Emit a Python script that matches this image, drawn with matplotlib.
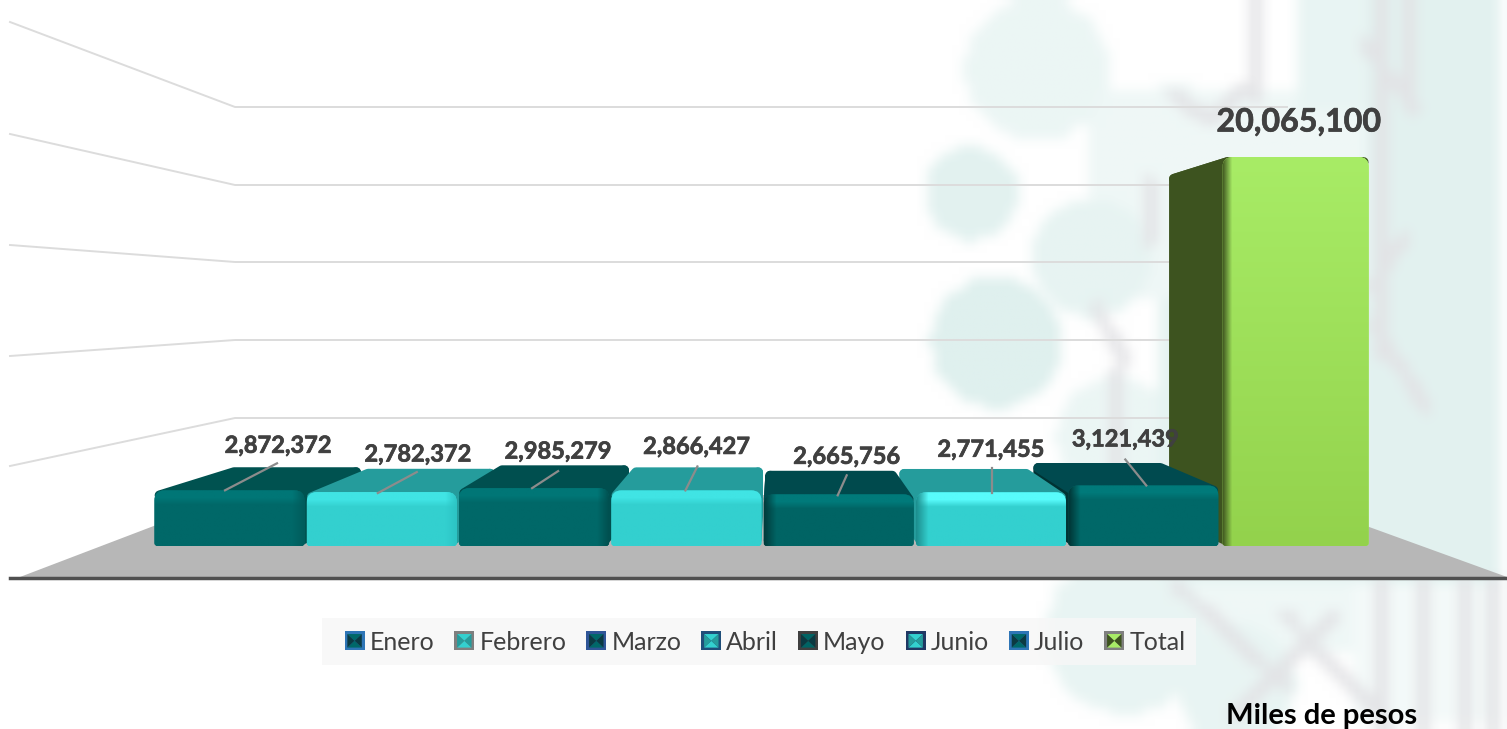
import numpy as np
import matplotlib
matplotlib.use("Agg")
import matplotlib.pyplot as plt
import matplotlib.patheffects as pe
from matplotlib.colors import to_rgb
from matplotlib.legend_handler import HandlerBase
from matplotlib.patches import Patch, PathPatch, Polygon, Rectangle
from matplotlib.path import Path

plt.rcParams["font.family"] = ["Lato", "DejaVu Sans"]

months = ["Enero", "Febrero", "Marzo", "Abril", "Mayo", "Junio", "Julio", "Total"]
values = [2872372, 2782372, 2985279, 2866427, 2665756, 2771455, 3121439, 20065100]

# px per unit
PX_X = 152.3
PX_Y = 389 / 20065100
X0, Y0 = 229.5, 546
W, H = 1507, 729

front = ["#006868", "#33d0cf", "#006868", "#33d0cf", "#006464", "#33d0cf", "#006868", "#a8ec66"]
bevel = ["#007676", "#40e4e4", "#007676", "#40e4e4", "#007a7a", "#58fbfb", "#007a7a", "#aef06c"]
topc = ["#005250", "#259c9c", "#004f4f", "#259c9c", "#004a4d", "#259c9c", "#004a4f", "#3d531f"]
side = ["#005c5c", "#2cc4c4", "#004e4e", "#2cc4c4", "#003c3c", "#1d8f8f", "#003333", "#3d531f"]
swatch_edge = ["#2e75b6", "#7f7f7f", "#2f5597", "#1f4e79", "#404040", "#203864", "#2e75b6", "#7f7f7f"]

# label and leader offsets from the bar's front top centre, px
label_off = [(48.5, 45), (36, 38), (24, 37), (10, 44), (8, 38), (0, 43), (-18, 46.5), (3, 35)]
leaders = [(-4.5, 0, 47.5, 27), (-4, 1, 35, 20), (-2, 0, 24, 17), (-1, 0, 11, 24),
           (-1, 1, 8, 19), (1, 1, 1, 24), (3, 0, -18, 26)]

fig = plt.figure(figsize=(15.07, 7.29), dpi=100)

# background, walls and floor in pixel coordinates
bg = fig.add_axes([0, 0, 1, 1])
bg.set_xlim(0, W)
bg.set_ylim(H, 0)
bg.axis("off")

# the watermark is a blurry low-res picture, so build it coarse and scale it up
CELL = 7
gx, gy = np.meshgrid(np.arange(0, W, CELL) + CELL / 2, np.arange(0, H, CELL) + CELL / 2)
teal = np.zeros_like(gx)
grey = np.zeros_like(gx)

blobs = [(1040, 70, 72, 0.6), (975, 195, 47, 0.9), (1095, 260, 60, 0.75), (1000, 345, 66, 1.0),
         (1180, 170, 85, 0.5), (1120, 440, 60, 0.6), (1130, 640, 80, 0.7), (1240, 690, 60, 0.7)]
for cx, cy, r, a in blobs:
    teal = np.maximum(teal, a * (np.hypot(gx - cx, gy - cy) < r))
washes = [(1369, 0, 1507, 590, 0.9), (1300, 0, 1369, 110, 0.7), (1090, 90, 1369, 300, 0.5),
          (1160, 300, 1507, 590, 0.8), (1060, 590, 1360, 660, 0.5), (1360, 590, 1507, 729, 0.35)]
for x1, y1, x2, y2, a in washes:
    teal = np.maximum(teal, a * ((gx > x1) & (gx < x2) & (gy > y1) & (gy < y2)))

strokes = [(1260, 0, 1260, 100), (1383, 0, 1383, 360), (1413, 0, 1413, 90), (1152, 185, 1152, 245),
           (1121, 375, 1121, 470), (1179, 97, 1215, 122), (1215, 122, 1250, 90), (1369, 45, 1420, 110),
           (1410, 240, 1375, 290), (1380, 330, 1430, 410), (1100, 310, 1130, 365), (1290, 620, 1390, 729),
           (1340, 620, 1240, 720), (1180, 590, 1290, 690), (1430, 585, 1430, 729), (1470, 585, 1470, 729),
           (1500, 585, 1500, 729), (1385, 585, 1385, 729)]
for x1, y1, x2, y2 in strokes:
    dx, dy = x2 - x1, y2 - y1
    t = np.clip(((gx - x1) * dx + (gy - y1) * dy) / (dx * dx + dy * dy), 0, 1)
    grey = np.maximum(grey, 1.0 * (np.hypot(gx - (x1 + t * dx), gy - (y1 + t * dy)) < 7))


def soften(a):
    # 3x3 blur, edges repeated so the border does not fade to white
    p = np.pad(a, 1, mode="edge")
    return (p[:-2, :-2] + 2 * p[:-2, 1:-1] + p[:-2, 2:]
            + 2 * p[1:-1, :-2] + 4 * p[1:-1, 1:-1] + 2 * p[1:-1, 2:]
            + p[2:, :-2] + 2 * p[2:, 1:-1] + p[2:, 2:]) / 16


teal, grey = soften(teal), soften(grey)
wm = np.ones(gx.shape + (3,))
wm = wm * (1 - teal[..., None]) + np.array(to_rgb("#dff0ee")) * teal[..., None]
wm = wm * (1 - 0.85 * grey[..., None]) + np.array(to_rgb("#e2e2e5")) * 0.85 * grey[..., None]
bg.imshow(wm, extent=(0, W, H, 0), aspect="auto", interpolation="bilinear", zorder=1)
bg.set_xlim(0, W)
bg.set_ylim(H, 0)

grid_y = [107, 185, 262, 340, 418]
grid_left = [22, 134, 245, 356, 466]
for gline, ly in zip(grid_y, grid_left):
    bg.plot([10, 235, 1287], [ly, gline, gline], color="#dcdcdc", lw=1.4, zorder=3)

bg.add_patch(Polygon([(20, 577), (235, 495), (1281, 495), (1507, 577)], fc="#b7b7b7", ec="none", zorder=4))
bg.plot([10, W], [577.5, 577.5], color="#505050", lw=2.5, zorder=5)
bg.add_patch(Rectangle((322, 618), 874, 47, fc="#f7f7f7", ec="none", alpha=0.85, zorder=5))

# bars on the value scale
ax = fig.add_axes([0, 0, 1, 1], facecolor="none")
xlim = (-X0 / PX_X, (W - X0) / PX_X)
ylim = ((Y0 - H) / PX_Y, Y0 / PX_Y)
ax.axis("off")

k = 0.88
vx = (776 - X0) / PX_X
vy = (Y0 - 297) / PX_Y
bar_w = [0.985] * 7 + [0.96]
px_x = 1 / PX_X
px_y = 1 / PX_Y


def back(x, y):
    return vx + k * (x - vx), vy + k * (y - vy)


def front_path(x1, x2, v):
    # rounded at the top, nearly square on the floor
    rx, ry = 10 * px_x, 10 * px_y
    bx, by = 3 * px_x, 3 * px_y
    verts = [(x1 + bx, 0), (x2 - bx, 0), (x2, 0), (x2, by), (x2, v - ry), (x2, v), (x2 - rx, v),
             (x1 + rx, v), (x1, v), (x1, v - ry), (x1, by), (x1, 0), (x1 + bx, 0), (x1 + bx, 0)]
    codes = [Path.MOVETO, Path.LINETO, Path.CURVE3, Path.CURVE3, Path.LINETO, Path.CURVE3, Path.CURVE3,
             Path.LINETO, Path.CURVE3, Path.CURVE3, Path.LINETO, Path.CURVE3, Path.CURVE3, Path.CLOSEPOLY]
    return Path(verts, codes)


def face_image(i, v):
    # small shaded picture of the front face: bevel on top, dark strip at the side
    h = max(int(v * PX_Y), 2)
    wpx = 150
    base = np.array(to_rgb(front[i]))
    img = np.ones((h, wpx, 3)) * base
    if i == 7:
        bottom = np.array(to_rgb("#93d24c"))
        t = np.linspace(0, 1, h)[:, None, None]
        img = img * (1 - t) + bottom * t
        dark = np.array(to_rgb("#3d531f"))
        for c in range(10):
            a = 1 - c / 10
            img[:, c] = img[:, c] * (1 - a) + dark * a
        return img
    top = np.array(to_rgb(bevel[i]))
    for r in range(14):
        a = 1 if r < 7 else (14 - r) / 7
        img[r] = base * (1 - a) + top * a
    sh = np.array(to_rgb(side[i]))
    for c in range(12):
        a = 1 - c / 12
        if i < 3:
            img[:, wpx - 1 - c] = img[:, wpx - 1 - c] * (1 - a) + sh * a
        elif i > 3:
            img[:, c] = img[:, c] * (1 - a) + sh * a
    return img


order = sorted(range(len(values)), key=lambda n: -abs(n - vx))
order = [7] + [n for n in order if n != 7]
for z, i in enumerate(order):
    v = values[i]
    x1, x2 = i - bar_w[i] / 2, i + bar_w[i] / 2
    zb = 10 + z * 3
    bx1, by = back(x1, v)
    bx2, _ = back(x2, v)
    # inset plus a thick round-joined edge gives the soft corners
    ins_x, ins_y = 5 * px_x, 5 * px_y
    # visible side face, towards the vanishing point, under the top face
    sx = x1 if i > vx else x2
    s = 1 if i > vx else -1
    bsx, bsy = back(sx, v)
    bsx0, by0 = back(sx, 0)
    side_col = side[i] if i >= 6 else topc[i]
    ax.add_patch(Polygon([(sx + s * ins_x, ins_y), (sx + s * ins_x, v - ins_y), (bsx + s * ins_x, bsy - ins_y),
                          (bsx0 + s * ins_x, by0)], fc=side_col, ec=side_col, lw=7,
                         joinstyle="round", zorder=zb))
    ax.add_patch(Polygon([(x1 + ins_x, v - ins_y), (x2 - ins_x, v - ins_y), (bx2 - ins_x, by - ins_y),
                          (bx1 + ins_x, by - ins_y)], fc=topc[i], ec=topc[i],
                         lw=7, joinstyle="round", zorder=zb + 0.5))
    box = PathPatch(front_path(x1, x2, v), fc=front[i], ec="none", zorder=zb + 1)
    ax.add_patch(box)
    im = ax.imshow(face_image(i, v), extent=(x1, x2, 0, v), aspect="auto", origin="upper",
                   interpolation="bilinear", zorder=zb + 1)
    im.set_clip_path(box)

for i, v in enumerate(values):
    if i < len(leaders):
        a, b, c, d = leaders[i]
        ax.plot([i + a * px_x, i + c * px_x], [v - b * px_y, v + d * px_y], color="#8c8c8c", lw=1.6, zorder=50)
    dx, dy = label_off[i]
    big = i == 7
    ax.text(i + dx * px_x, v + dy * px_y, f"{v:,}", ha="center", va="center", fontweight="bold",
            fontsize=23.2 if big else 17, color="#404040", zorder=60,
            path_effects=[pe.withStroke(linewidth=0.5, foreground="#404040")])

ax.set_xlim(xlim)
ax.set_ylim(ylim)


class SwatchHandler(HandlerBase):
    def create_artists(self, legend, orig, xd, yd, width, height, fontsize, trans):
        i = months.index(orig.get_label())
        x0, y0 = -xd, -yd
        pad = 2.0
        c = (x0 + width / 2, y0 + height / 2)
        a, b = x0 + pad, y0 + pad
        e, f = x0 + width - pad, y0 + height - pad
        arts = [Rectangle((x0, y0), width, height, fc=swatch_edge[i], ec="none", transform=trans)]
        light = front[i]
        dark = topc[i] if i in (1, 3, 5, 7) else "#0b3a42"
        arts.append(Polygon([(a, f), (e, f), c], fc=light, ec="none", transform=trans))
        arts.append(Polygon([(a, b), (e, b), c], fc=light, ec="none", transform=trans))
        arts.append(Polygon([(a, b), (a, f), c], fc=dark, ec="none", transform=trans))
        arts.append(Polygon([(e, b), (e, f), c], fc=dark, ec="none", transform=trans))
        return arts


handles = [Patch(label=m) for m in months]
leg = ax.legend(handles=handles, ncol=8, loc="center", bbox_to_anchor=(765 / W, 1 - 642 / H),
                bbox_transform=fig.transFigure, fontsize=18, frameon=False, labelcolor="#404040",
                handler_map={Patch: SwatchHandler()}, handlelength=0.8, handleheight=0.8,
                handletextpad=0.2, columnspacing=0.8, borderpad=0, borderaxespad=0)
leg.set_zorder(70)

fig.text(1322 / W, 1 - 716 / H, "Miles de pesos", ha="center", va="center", fontsize=21,
         fontweight="bold", color="black")

fig.savefig("out.png", dpi=100)
